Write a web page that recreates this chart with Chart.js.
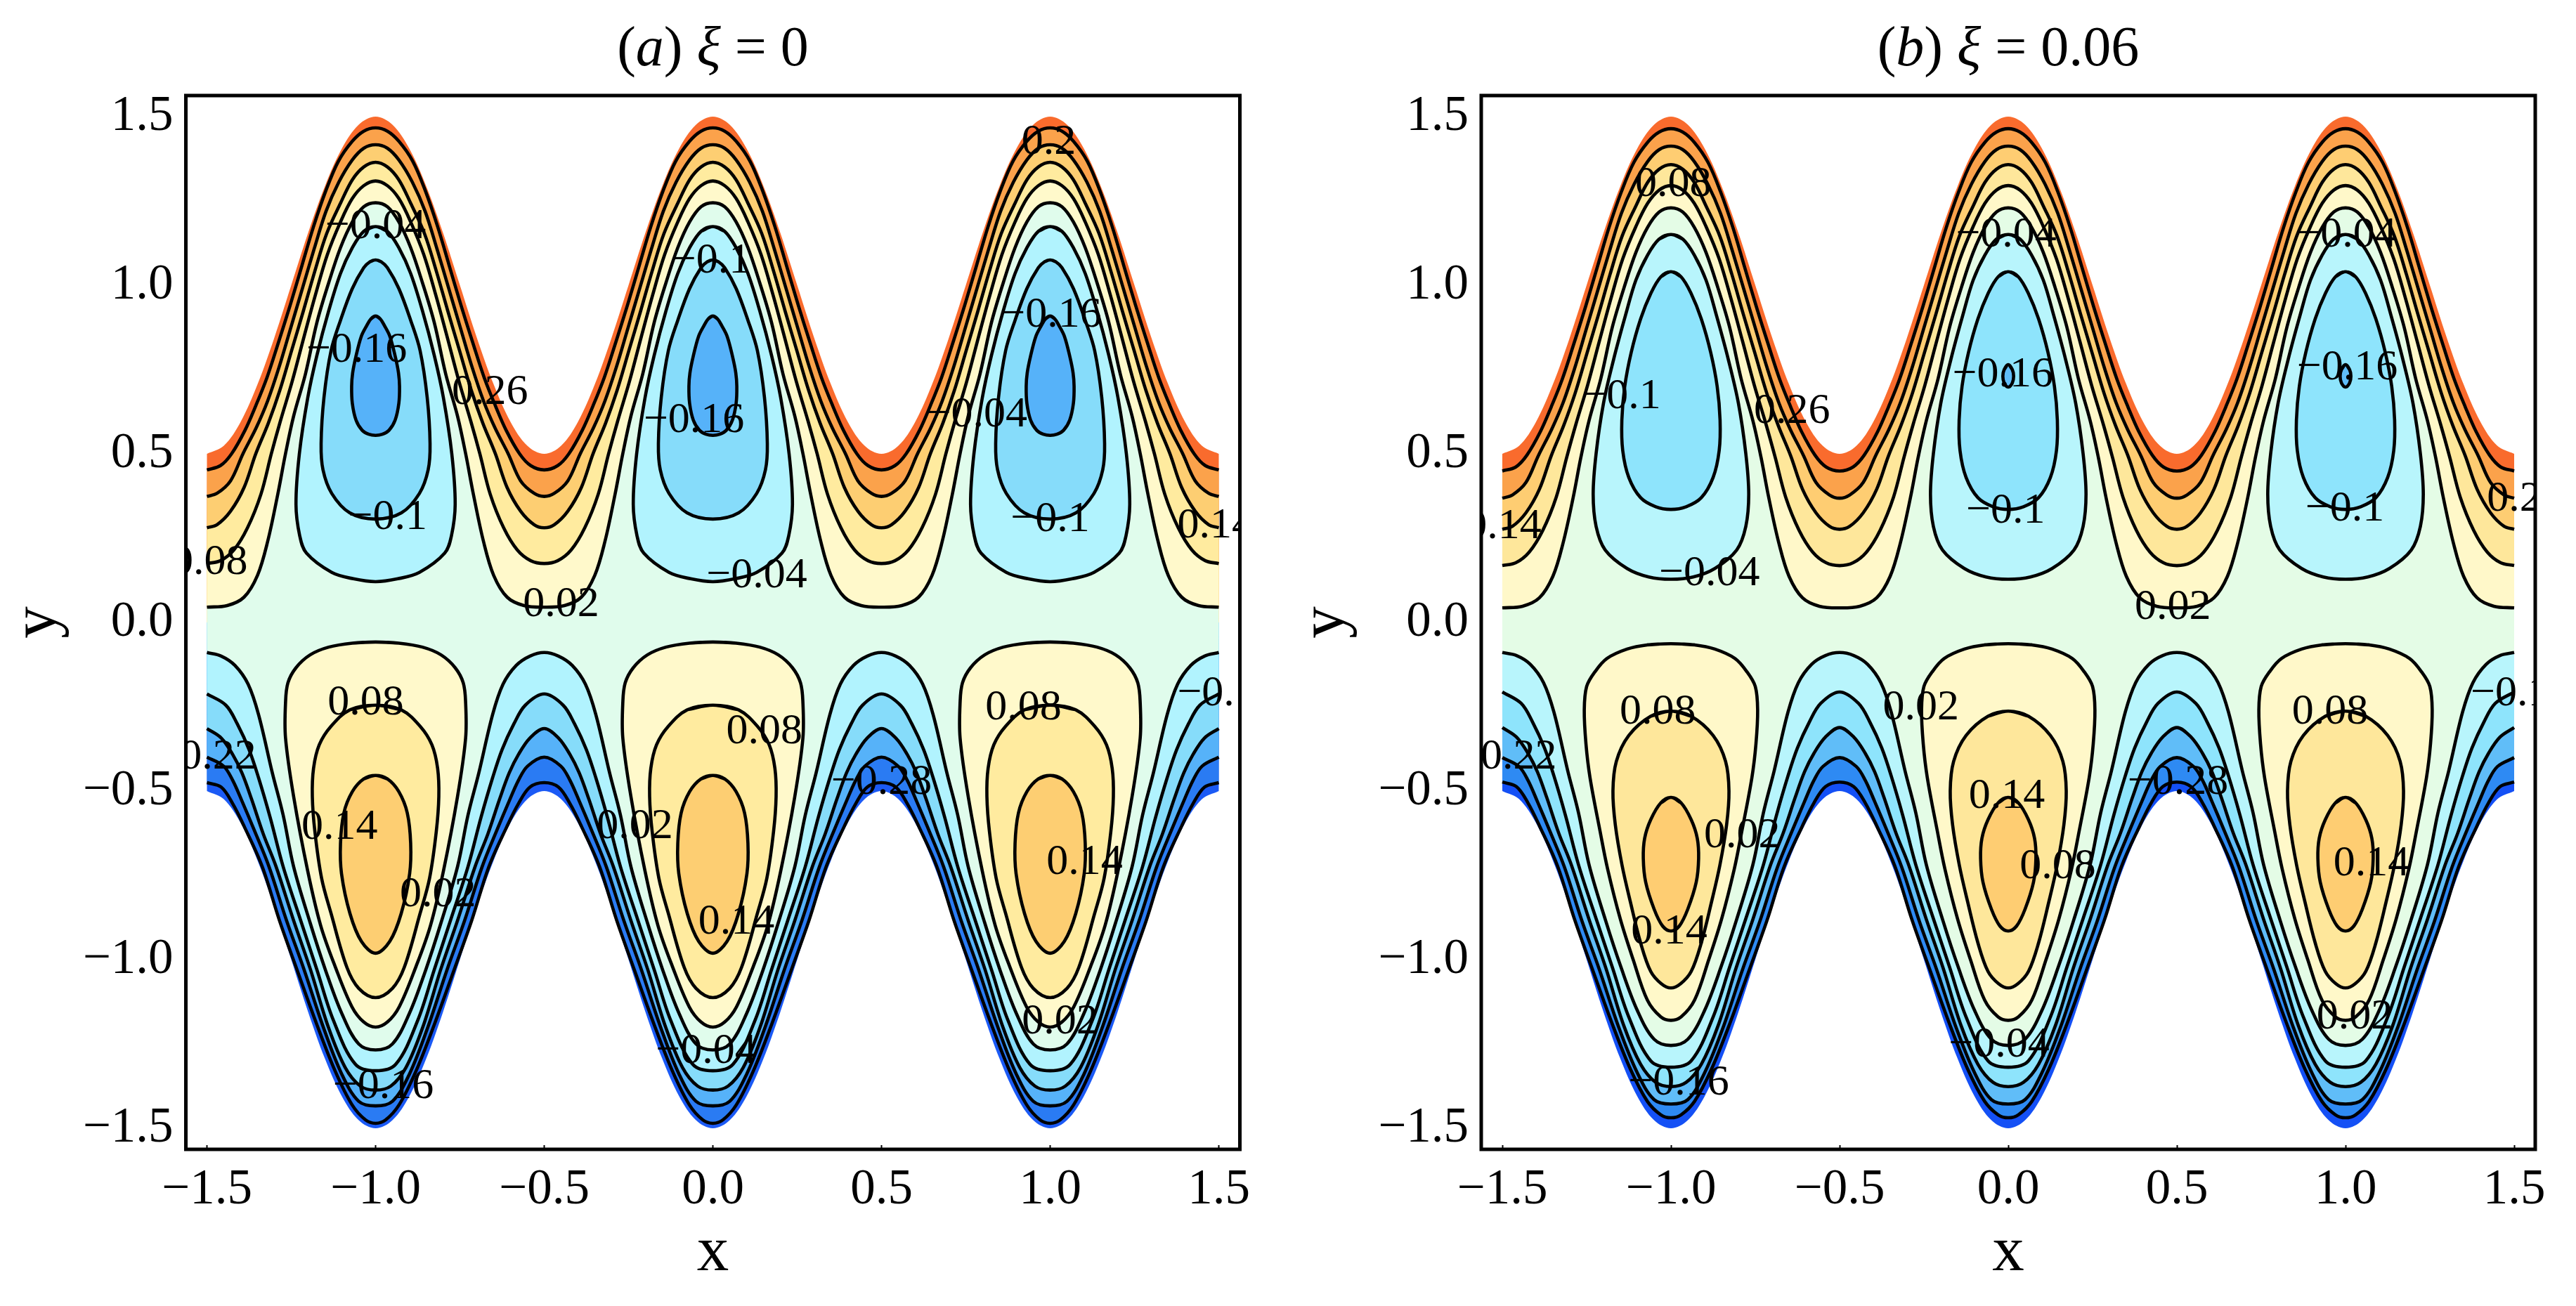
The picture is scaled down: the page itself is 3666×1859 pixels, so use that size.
<!DOCTYPE html>
<html>
<head>
<meta charset="utf-8">
<title>contours</title>
<script src="https://cdn.jsdelivr.net/npm/chart.js@4"></script>
<style>
  body { margin: 0; background: #fff; }
  canvas { position: absolute; top: 0; }
</style>
</head>
<body>
<canvas id="panelA" width="1833" height="1859" style="left:0"></canvas>
<canvas id="panelB" width="1833" height="1859" style="left:1833px"></canvas>
<script>
// tick labels
const xTicks = [-1.5, -1, -0.5, 0, 0.5, 1, 1.5];
const yTicks = [-1.5, -1, -0.5, 0, 0.5, 1, 1.5];

// wall of the channel, half a period: [distance from lobe centre, y]
const wallTop = [[0,1.5],[.05,1.476],[.1,1.405],[.15,1.294],[.2,1.155],[.25,1],[.3,.845],[.35,.706],[.4,.595],[.45,.524],[.5,.5]];
const wallBottom = [[0,-1.5],[.05,-1.476],[.1,-1.405],[.15,-1.294],[.2,-1.155],[.25,-1],[.3,-.845],[.35,-.706],[.4,-.595],[.45,-.524],[.5,-.5]];

// panel (a) upper wavy contours
const aTop1 = [[0,1.4667],[.035,1.457],[.069,1.4271],[.11,1.3681],[.147,1.2814],[.184,1.1738],[.218,1.0593],[.253,.9414],[.288,.8303],[.322,.7262],[.355,.643],[.387,.5701],[.427,.5],[.46,.465],[.5,.4523]];
const aTop2 = [[0,1.4167],[.035,1.4063],[.069,1.3716],[.109,1.3057],[.147,1.219],[.182,1.1079],[.216,.9934],[.251,.8754],[.286,.7575],[.32,.6568],[.354,.577],[.393,.5007],[.43,.42],[.47,.383],[.5,.3737]];
const aTop3 = [[0,1.3647],[.035,1.3508],[.069,1.3126],[.104,1.2432],[.145,1.153],[.18,1.042],[.214,.924],[.249,.806],[.284,.688],[.318,.591],[.355,.5007],[.39,.4],[.43,.33],[.47,.29],[.5,.2808]];
const aTop4 = [[0,1.3092],[.035,1.2953],[.069,1.2571],[.104,1.1877],[.143,1.0906],[.178,.9726],[.212,.8477],[.247,.7158],[.282,.5979],[.309,.5007],[.34,.38],[.38,.28],[.42,.215],[.46,.183],[.5,.1747]];
const aTop5 = [[0,1.2446],[.035,1.2328],[.069,1.1877],[.104,1.1114],[.139,1.0073],[.174,.8893],[.208,.7366],[.243,.6117],[.267,.5007],[.29,.38],[.32,.24],[.35,.14],[.39,.075],[.44,.05],[.5,.0452]];
// panel (a) lower wavy contours
const aLow1 = [[0,-1.2678],[.05,-1.25],[.1,-1.16],[.149,-1.0295],[.194,-.8907],[.243,-.7242],[.274,-.5715],[.306,-.4466],[.347,-.2731],[.378,-.1829],[.417,-.1274],[.458,-.0996],[.5,-.0892]];
const aLow2 = [[0,-1.3295],[.06,-1.31],[.125,-1.18],[.174,-1.0295],[.222,-.8838],[.274,-.7242],[.3125,-.5784],[.347,-.4605],[.375,-.3772],[.41,-.3008],[.444,-.2453],[.5,-.212]];
const aLow3 = [[0,-1.3868],[.045,-1.375],[.09,-1.32],[.14,-1.2],[.193,-1.0295],[.243,-.8838],[.295,-.7242],[.333,-.627],[.368,-.523],[.396,-.4466],[.424,-.391],[.458,-.3425],[.5,-.3147]];
const aLow4 = [[0,-1.4335],[.05,-1.42],[.1,-1.34],[.155,-1.2],[.212,-1.0295],[.264,-.8838],[.316,-.7242],[.361,-.613],[.396,-.53],[.424,-.4674],[.451,-.4258],[.5,-.3994]];
const aLow5 = [[0,-1.4853],[.03,-1.475],[.07,-1.43],[.12,-1.33],[.175,-1.19],[.233,-1.0295],[.285,-.8838],[.336,-.7242],[.389,-.606],[.424,-.5368],[.458,-.4882],[.5,-.475]];
// panel (a) closed loops, right half from top to bottom
const aNeg04 = [[0,1.174],[.035,1.16],[.069,1.111],[.104,1.035],[.139,.924],[.174,.792],[.201,.667],[.226,.5],[.236,.35],[.225,.2575],[.205,.2057],[.13,.1486],[.066,.1295],[0,.1208]];
const aNeg10 = [[0,1.075],[.016,1.07],[.035,1.052],[.069,.99],[.104,.896],[.132,.806],[.153,.667],[.1615,.53],[.156,.453],[.13,.3826],[.0765,.325],[0,.3066]];
const aNeg16 = [[0,.9085],[.014,.9],[.027,.879],[.0425,.848],[.058,.79],[.068,.74],[.071,.7],[.069,.65],[.058,.6],[.04,.57],[.02,.558],[0,.5546]];
const aPos02 = [[0,-.058],[.069,-.0614],[.139,-.0732],[.194,-.0961],[.236,-.1343],[.26,-.1794],[.267,-.2384],[.267,-.3425],[.243,-.516],[.201,-.738],[.163,-.898],[.12,-1.02],[.07,-1.14],[.035,-1.185],[0,-1.2]];
const aPos08 = [[0,-.2453],[.076,-.259],[.132,-.308],[.167,-.363],[.184,-.433],[.1875,-.516],[.18,-.62],[.16,-.759],[.132,-.863],[.085,-1.023],[.05,-1.085],[0,-1.1124]];
const aPos14 = [[0,-.4535],[.035,-.464],[.069,-.502],[.094,-.565],[.104,-.655],[.101,-.745],[.076,-.863],[.042,-.946],[0,-.981]];

// panel (b) upper wavy contours
const bTop1 = [[0,1.4643],[.035,1.454],[.069,1.424],[.11,1.364],[.147,1.277],[.184,1.17],[.218,1.055],[.253,.937],[.288,.826],[.322,.722],[.355,.639],[.387,.566],[.427,.496],[.46,.461],[.5,.4491]];
const bTop2 = [[0,1.4125],[.035,1.402],[.069,1.367],[.109,1.3],[.147,1.213],[.182,1.102],[.216,.988],[.251,.87],[.286,.752],[.32,.651],[.354,.572],[.393,.495],[.43,.415],[.47,.378],[.5,.3684]];
const bTop3 = [[0,1.3577],[.035,1.344],[.069,1.305],[.104,1.235],[.145,1.145],[.18,1.034],[.214,.916],[.249,.798],[.284,.68],[.318,.584],[.355,.494],[.39,.395],[.43,.325],[.47,.285],[.5,.2762]];
const bTop4 = [[0,1.2955],[.035,1.282],[.069,1.243],[.104,1.174],[.143,1.078],[.178,.96],[.212,.835],[.247,.704],[.282,.587],[.309,.49],[.34,.372],[.38,.273],[.42,.209],[.46,.177],[.5,.1685]];
const bTop5 = [[0,1.2295],[.035,1.217],[.069,1.172],[.104,1.097],[.139,.993],[.174,.875],[.208,.723],[.243,.598],[.267,.49],[.29,.37],[.32,.235],[.35,.137],[.39,.073],[.44,.048],[.5,.0431]];
// panel (b) lower wavy contours
const bLow1 = [[0,-1.2544],[.05,-1.236],[.1,-1.15],[.149,-1.02],[.194,-.883],[.243,-.718],[.274,-.565],[.306,-.44],[.347,-.266],[.378,-.178],[.417,-.124],[.458,-.098],[.5,-.0891]];
const bLow2 = [[0,-1.319],[.06,-1.3],[.125,-1.17],[.174,-1.022],[.222,-.878],[.274,-.719],[.3125,-.573],[.347,-.455],[.375,-.372],[.41,-.296],[.444,-.24],[.5,-.2061]];
const bLow3 = [[0,-1.3766],[.045,-1.364],[.09,-1.31],[.14,-1.195],[.193,-1.025],[.243,-.88],[.295,-.72],[.333,-.624],[.368,-.52],[.396,-.443],[.424,-.388],[.458,-.34],[.5,-.3117]];
const bLow4 = [[0,-1.428],[.05,-1.415],[.1,-1.335],[.155,-1.2],[.212,-1.03],[.264,-.885],[.316,-.725],[.361,-.614],[.396,-.531],[.424,-.468],[.451,-.4268],[.5,-.4008]];
const bLow5 = [[0,-1.4689],[.03,-1.46],[.07,-1.42],[.12,-1.325],[.175,-1.188],[.233,-1.028],[.285,-.883],[.336,-.723],[.389,-.605],[.424,-.535],[.458,-.487],[.5,-.4733]];
// panel (b) closed loops
const bNeg04 = [[0,1.1505],[.035,1.137],[.069,1.09],[.104,1.015],[.135,.91],[.17,.78],[.2,.65],[.222,.5],[.2306,.38],[.222,.285],[.195,.215],[.13,.16],[.066,.135],[0,.128]];
const bNeg10 = [[0,1.04],[.03,1.025],[.06,.975],[.09,.9],[.118,.8],[.137,.7],[.1456,.6],[.143,.51],[.125,.43],[.09,.37],[.045,.343],[0,.3352]];
const bNeg16 = [[0,.7645],[.012,.75],[.016,.73],[.012,.71],[0,.698]];
const bPos02 = [[0,-.063],[.07,-.0665],[.13,-.079],[.19,-.107],[.225,-.146],[.25,-.19],[.257,-.26],[.252,-.36],[.24,-.46],[.21,-.62],[.188,-.73],[.15,-.88],[.112,-1],[.07,-1.12],[.03,-1.17],[0,-1.18]];
const bPos08 = [[0,-.263],[.06,-.278],[.125,-.335],[.162,-.412],[.172,-.5],[.165,-.6],[.145,-.72],[.12,-.83],[.09,-.95],[.06,-1.035],[.028,-1.072],[0,-1.084]];
const bPos14 = [[0,-.5189],[.03,-.535],[.06,-.585],[.078,-.64],[.082,-.7],[.075,-.77],[.05,-.85],[.025,-.9],[0,-.915]];

// contour labels: [x, y, text]
const aLabels = [
  [-1,1.174,'−0.04'],[-1.056,.807,'−0.16'],[-.661,.682,'0.26'],[-.964,.311,'−0.1'],[-1.492,.177,'0.08'],[-.45,.0535,'0.02'],
  [-.005,1.071,'−0.1'],[-.056,.599,'−0.16'],[.13,.1385,'−0.04'],[.783,.615,'−0.04'],[.996,1.423,'0.2'],[1.003,.911,'−0.16'],
  [1,.305,'−0.1'],[1.49,.286,'0.14'],[-1.029,-.239,'0.08'],[-1.503,-.4,'−0.22'],[-1.107,-.607,'0.14'],[-.815,-.807,'0.02'],
  [-.977,-1.377,'−0.16'],[-.231,-.605,'0.02'],[-.02,-1.273,'−0.04'],[.07,-.888,'0.14'],[.1525,-.325,'0.08'],[.5,-.475,'−0.28'],
  [.921,-.253,'0.08'],[1.102,-.711,'0.14'],[1.029,-1.185,'0.02'],[1.494,-.211,'−0.1']
];
const bLabels = [
  [-.993,1.299,'0.08'],[-1.147,.669,'−0.1'],[-.641,.625,'0.26'],[-1.497,.283,'0.14'],[-.886,.144,'−0.04'],[-.006,1.148,'−0.04'],
  [-.016,.734,'−0.16'],[-.008,.33,'−0.1'],[.488,.045,'0.02'],[1.002,1.148,'−0.04'],[1.005,.755,'−0.16'],[.998,.335,'−0.1'],
  [1.5,.366,'0.2'],[-1.039,-.266,'0.08'],[-1.488,-.4,'−0.22'],[-.789,-.633,'0.02'],[-1.005,-.919,'0.14'],[-.977,-1.366,'−0.16'],
  [-.259,-.253,'0.02'],[-.004,-.517,'0.14'],[.147,-.724,'0.08'],[-.027,-1.254,'−0.04'],[.503,-.475,'−0.28'],[.954,-.266,'0.08'],
  [1.077,-.716,'0.14'],[1.027,-1.17,'0.02'],[1.488,-.211,'−0.1']
];

// band colours, from the wall inwards
const aWarm = ['#f96b2d', '#fba24b', '#fdce72', '#ffeb9f', '#fff9cb', '#e0fcec'];
const aCold = ['#1b5af5', '#2a7bf3', '#56b2f9', '#86dcfa', '#b1f3fe', '#e0fcec'];
const bWarm = ['#f96b2d', '#fba24b', '#fecd72', '#fee79b', '#fff8c9', '#e4fce6'];
const bCold = ['#1450f5', '#2e8af3', '#60bdf8', '#8ee4fc', '#b8f5fc', '#e4fce6'];

const titleA = [['(', ''], ['a', 'italic '], [') ', ''], ['ξ', 'italic '], [' = 0', '']];
const titleB = [['(', ''], ['b', 'italic '], [') ', ''], ['ξ', 'italic '], [' = 0.06', '']];

const serif = '"Liberation Serif"';

// repeat half a period over the three lobes
function unfold(half) {
  const pts = [];
  [-1, 0, 1].forEach((c, n) => {
    for (let i = half.length - (n ? 2 : 1); i > 0; i--) pts.push({x: c - half[i][0], y: half[i][1]});
    for (let i = 0; i < half.length; i++) pts.push({x: c + half[i][0], y: half[i][1]});
  });
  return pts;
}

// mirror a right half into a closed ring round lobe c, overlapping the ends so the spline has no cusp
function ring(half, c) {
  const r = half.map(p => ({x: c + p[0], y: p[1]}));
  for (let i = half.length - 2; i > 0; i--) r.push({x: c - half[i][0], y: half[i][1]});
  return [r[r.length - 1], ...r, r[0], r[1]];
}

// close a wave against the centre line, corners doubled so they stay sharp
function toCentre(pts) {
  const a = {x: 1.5, y: 0}, b = {x: -1.5, y: 0}, first = pts[0], last = pts[pts.length - 1];
  return [first, ...pts, last, a, a, b, b, first];
}

function fillSet(data, color) {
  return {data, showLine: true, fill: 'shape', backgroundColor: color, borderWidth: 0, borderColor: color, pointRadius: 0, tension: 0.35};
}
function lineSet(data) {
  return {data, showLine: true, fill: false, borderColor: '#000', borderWidth: 4.6, pointRadius: 0, tension: 0.35};
}

function makePanel(id, p) {
  const sets = [];
  const tops = [wallTop, ...p.top];
  const lows = [wallBottom, ...p.low];
  tops.forEach((w, i) => sets.push(fillSet(toCentre(unfold(w)), p.warm[i])));
  lows.forEach((w, i) => sets.push(fillSet(toCentre(unfold(w)), p.cold[i])));
  p.top.forEach(w => sets.push(lineSet(unfold(w))));
  p.low.forEach(w => sets.push(lineSet(unfold(w))));
  p.loops.forEach(l => {
    l.lobes.forEach(c => {
      sets.push(fillSet(ring(l.half, c), l.color));
      sets.push(lineSet(ring(l.half, c)));
    });
  });

  const overlay = {
    id: 'overlay',
    afterDatasetsDraw(chart) {
      const {ctx, chartArea: ca, scales} = chart;
      ctx.save();
      ctx.beginPath();
      ctx.rect(ca.left, ca.top, ca.right - ca.left, ca.bottom - ca.top);
      ctx.clip();
      ctx.fillStyle = '#000';
      ctx.font = '62px ' + serif;
      ctx.textAlign = 'center';
      ctx.textBaseline = 'middle';
      p.labels.forEach(l => ctx.fillText(l[2], scales.x.getPixelForValue(l[0]), scales.y.getPixelForValue(l[1])));
      ctx.restore();
    },
    afterDraw(chart) {
      const {ctx, chartArea: ca, scales} = chart;
      ctx.save();
      ctx.strokeStyle = '#000';
      ctx.lineWidth = 5;
      ctx.strokeRect(ca.left, ca.top, ca.right - ca.left, ca.bottom - ca.top);
      // panel title with its italic parts
      ctx.fillStyle = '#000';
      ctx.textAlign = 'left';
      ctx.textBaseline = 'alphabetic';
      let w = 0;
      p.title.forEach(s => { ctx.font = s[1] + '80px ' + serif; w += ctx.measureText(s[0]).width; });
      let x = scales.x.getPixelForValue(0) - w / 2;
      p.title.forEach(s => {
        ctx.font = s[1] + '80px ' + serif;
        ctx.fillText(s[0], x, 93);
        x += ctx.measureText(s[0]).width;
      });
      ctx.restore();
    }
  };

  new Chart(document.getElementById(id), {
    type: 'scatter',
    data: {datasets: sets.reverse()},
    plugins: [overlay],
    options: {
      responsive: false,
      animation: false,
      devicePixelRatio: 1,
      layout: {autoPadding: false, padding: {left: 0, right: 1833 - p.left - 1500, top: 136, bottom: 0}},
      plugins: {legend: {display: false}, tooltip: {enabled: false}},
      scales: {
        x: {
          type: 'linear', min: -1.5625, max: 1.5625,
          afterBuildTicks: s => { s.ticks = xTicks.map(v => ({value: v})); },
          afterFit: s => { s.height = 1859 - 1636; },
          border: {display: false},
          grid: {drawOnChartArea: false, tickLength: -6, tickWidth: 2, tickColor: '#000'},
          ticks: {
            padding: 22, autoSkip: false, maxRotation: 0, color: '#000',
            font: {family: serif, size: 71},
            callback: v => v.toFixed(1).replace('-', '−')
          },
          title: {display: true, text: 'x', color: '#000', font: {family: serif, size: 91}, padding: {top: 0, bottom: 20}}
        },
        y: {
          type: 'linear', min: -1.5625, max: 1.5625,
          afterBuildTicks: s => { s.ticks = yTicks.map(v => ({value: v})); },
          afterFit: s => { s.width = p.left; },
          border: {display: false},
          grid: {drawOnChartArea: false, drawTicks: false},
          ticks: {
            padding: 18, autoSkip: false, maxRotation: 0, color: '#000',
            font: {family: serif, size: 71},
            callback: v => v.toFixed(1).replace('-', '−')
          },
          title: {display: true, text: 'y', color: '#000', font: {family: serif, size: 91}, padding: {top: 0, bottom: 0}}
        }
      }
    }
  });
}

makePanel('panelA', {
  left: 264.5,
  title: titleA,
  top: [aTop1, aTop2, aTop3, aTop4, aTop5],
  low: [aLow5, aLow4, aLow3, aLow2, aLow1],
  warm: aWarm,
  cold: aCold,
  labels: aLabels,
  loops: [
    {half: aNeg04, color: aCold[4], lobes: [-1, 0, 1]},
    {half: aNeg10, color: aCold[3], lobes: [-1, 0, 1]},
    {half: aNeg16, color: aCold[2], lobes: [-1, 0, 1]},
    {half: aPos02, color: aWarm[4], lobes: [-1, 0, 1]},
    {half: aPos08, color: aWarm[3], lobes: [-1, 0, 1]},
    {half: aPos14, color: aWarm[2], lobes: [-1, 0, 1]}
  ]
});

makePanel('panelB', {
  left: 275,
  title: titleB,
  top: [bTop1, bTop2, bTop3, bTop4, bTop5],
  low: [bLow5, bLow4, bLow3, bLow2, bLow1],
  warm: bWarm,
  cold: bCold,
  labels: bLabels,
  loops: [
    {half: bNeg04, color: bCold[4], lobes: [-1, 0, 1]},
    {half: bNeg10, color: bCold[3], lobes: [-1, 0, 1]},
    {half: bNeg16, color: bCold[2], lobes: [0, 1]},
    {half: bPos02, color: bWarm[4], lobes: [-1, 0, 1]},
    {half: bPos08, color: bWarm[3], lobes: [-1, 0, 1]},
    {half: bPos14, color: bWarm[2], lobes: [-1, 0, 1]}
  ]
});
</script>
</body>
</html>
